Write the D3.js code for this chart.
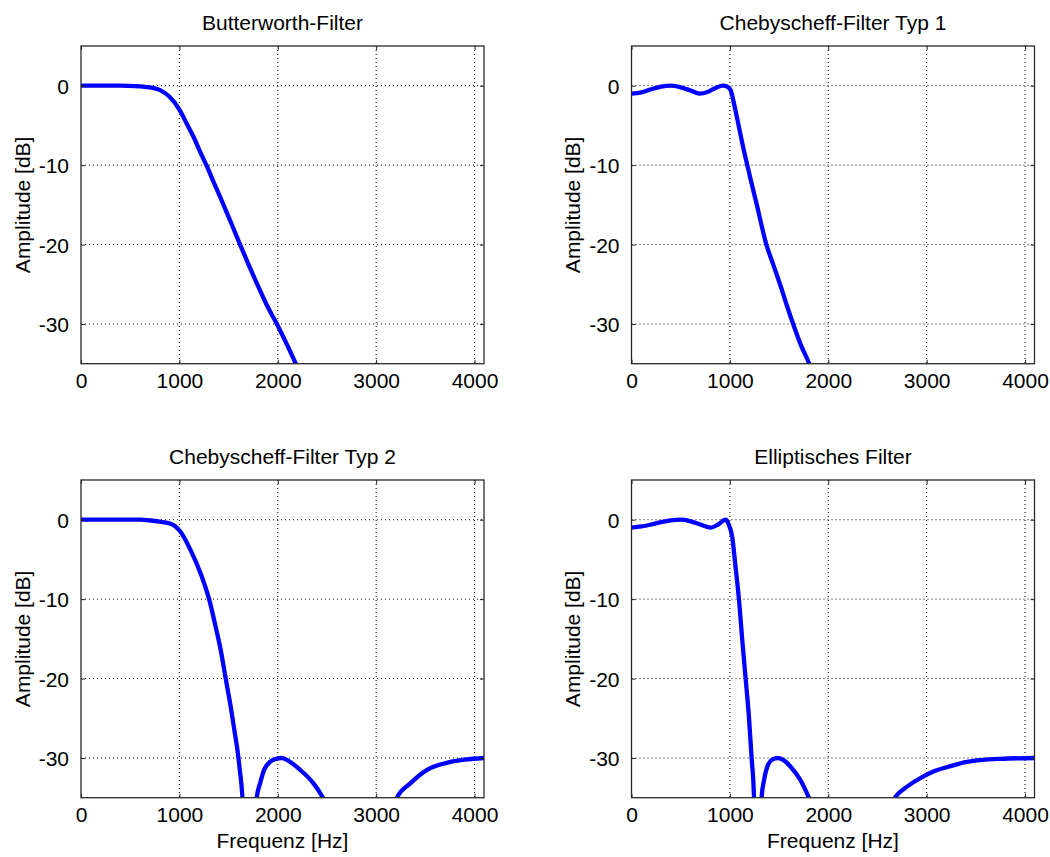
<!DOCTYPE html>
<html>
<head>
<meta charset="utf-8">
<script src="https://cdn.jsdelivr.net/npm/d3@7"></script>
<style>
  html, body { margin: 0; padding: 0; background: #fff; }
  svg { display: block; }
  text { font-family: "Liberation Sans", Arial, Helvetica, sans-serif; fill: #000; }
</style>
</head>
<body>
<svg id="chart" width="1050" height="857"></svg>
<script>
// ---- data (frequency in Hz, amplitude in dB) ----
const titles = ["Butterworth-Filter", "Chebyscheff-Filter Typ 1", "Chebyscheff-Filter Typ 2", "Elliptisches Filter"];
const xTicks = [0, 1000, 2000, 3000, 4000];
const yTicks = [0, -10, -20, -30];
const xDomain = [0, 4096];
const yDomain = [-35, 5];
const xLabel = "Frequenz [Hz]";
const yLabel = "Amplitude [dB]";

const butterFreq = [0, 200, 400, 550, 650, 750, 804, 900, 1000, 1071, 1142, 1210, 1278, 1350, 1414, 1520, 1617, 1720, 1821, 1900, 1991, 2090, 2184, 2260];
const butterDb   = [0, 0, 0, -0.05, -0.15, -0.33, -0.56, -1.4, -3.0, -4.7, -6.4, -8.3, -10.1, -12.2, -14.0, -17.1, -20, -23, -25.8, -27.9, -30, -32.5, -35, -37];

const cheby1Freq = [0, 100, 200, 300, 404, 500, 600, 692, 780, 860, 930, 970, 1007, 1041, 1092, 1143, 1177, 1211, 1270, 1371, 1440, 1507, 1580, 1643, 1720, 1806, 1850];
const cheby1Db   = [-1, -0.85, -0.45, -0.1, 0, -0.2, -0.6, -1.0, -0.75, -0.25, 0, -0.1, -0.55, -2.2, -5.2, -8.2, -10, -11.8, -14.8, -20, -22.5, -24.9, -27.7, -30, -32.6, -35, -36.5];

const cheby2Freq = [0, 300, 600, 708, 800, 911, 1013, 1115, 1217, 1302, 1369, 1420, 1471, 1522, 1560, 1590, 1614, 1641, 1665, 1713, 1760, 1786, 1820, 1861, 1920, 2000, 2042, 2100, 2228, 2363, 2459, 2600, 2720, 2835, 2960, 3120, 3211, 3347, 3517, 3754, 3900, 4096];
const cheby2Db   = [0, 0, 0, -0.1, -0.25, -0.5, -1.55, -3.86, -6.8, -10, -13.5, -16.4, -20, -23.6, -26.6, -29.0, -31.5, -35, -42, -70, -42, -35, -33.2, -31.5, -30.5, -30.05, -30, -30.3, -31.5, -33.2, -35, -39, -46, -70, -46, -38.5, -35, -33.2, -31.5, -30.5, -30.2, -30];

const ellipFreq = [0, 100, 200, 300, 400, 506, 600, 700, 806, 880, 957, 985, 1024, 1058, 1092, 1126, 1160, 1194, 1221, 1245, 1262, 1283, 1300, 1322, 1350, 1380, 1430, 1488, 1550, 1617, 1718, 1803, 1950, 2100, 2230, 2380, 2560, 2678, 2780, 2899, 3068, 3250, 3408, 3600, 3747, 4096];
const ellipDb   = [-1, -0.85, -0.6, -0.3, -0.08, 0, -0.2, -0.6, -1.0, -0.6, 0, -0.5, -2.2, -6, -10, -15.2, -20, -24.9, -30, -35, -45, -70, -45, -35, -32.6, -31.1, -30.2, -30, -30.3, -31.1, -32.8, -35, -40, -48, -70, -48, -38.5, -35, -33.8, -32.8, -31.7, -31, -30.5, -30.2, -30.1, -30];

// ---- layout ----
const svg = d3.select("#chart");
const panels = [
  { left: 81,    top: 46,  freq: butterFreq, db: butterDb, xlab: false },
  { left: 631.5, top: 46,  freq: cheby1Freq, db: cheby1Db, xlab: false },
  { left: 81,    top: 480, freq: cheby2Freq, db: cheby2Db, xlab: true },
  { left: 631.5, top: 480, freq: ellipFreq,  db: ellipDb,  xlab: true }
];
const W = 403, H = 317.7, tickLen = 4;
const fmt = d => String(d);

panels.forEach((p, i) => {
  const g = svg.append("g").attr("transform", `translate(${p.left},${p.top})`);
  const x = d3.scaleLinear().domain(xDomain).range([0, W]);
  const y = d3.scaleLinear().domain(yDomain).range([H, 0]);

  const cid = "clip" + i;
  g.append("clipPath").attr("id", cid).append("rect").attr("width", W).attr("height", H);

  // grid
  g.append("g").selectAll("line").data(xTicks.filter(t => t > 0)).join("line")
    .attr("x1", d => x(d)).attr("x2", d => x(d)).attr("y1", 0).attr("y2", H)
    .attr("stroke", "#000").attr("stroke-width", 1).attr("stroke-dasharray", "1,3");
  g.append("g").selectAll("line").data(yTicks).join("line")
    .attr("y1", d => y(d)).attr("y2", d => y(d)).attr("x1", 0).attr("x2", W)
    .attr("stroke", "#000").attr("stroke-width", 1).attr("stroke-dasharray", "1,3");

  // curve
  const pts = p.freq.map((f, k) => [f, p.db[k]]);
  const line = d3.line().x(d => x(d[0])).y(d => y(d[1])).curve(d3.curveMonotoneX);
  g.append("path").datum(pts).attr("clip-path", `url(#${cid})`)
    .attr("d", line).attr("fill", "none").attr("stroke", "#0000ff")
    .attr("stroke-width", 4.3).attr("stroke-linejoin", "round").attr("stroke-linecap", "butt");

  // axes (inward ticks)
  const xAxB = d3.axisBottom(x).tickValues(xTicks).tickFormat(fmt).tickSizeInner(-tickLen).tickSizeOuter(0);
  const gx = g.append("g").attr("transform", `translate(0,${H})`).call(xAxB);
  const xAxT = d3.axisTop(x).tickValues(xTicks).tickSizeInner(-tickLen).tickSizeOuter(0).tickFormat("");
  g.append("g").call(xAxT);
  const yAxL = d3.axisLeft(y).tickValues(yTicks).tickFormat(fmt).tickSizeInner(-tickLen).tickSizeOuter(0).tickPadding(tickLen + 8);
  const gy = g.append("g").call(yAxL);
  const yAxR = d3.axisRight(y).tickValues(yTicks).tickSizeInner(-tickLen).tickSizeOuter(0).tickFormat("");
  g.append("g").attr("transform", `translate(${W},0)`).call(yAxR);

  g.selectAll(".domain").remove();
  g.selectAll(".tick line").attr("stroke", "#222").attr("stroke-width", 1);
  gx.selectAll(".tick text").attr("font-size", 21).attr("dy", null).attr("y", 24.5)
    .style("font-family", '"Liberation Sans", Arial, sans-serif').attr("fill", "#000");
  gy.selectAll(".tick text").attr("font-size", 21).attr("dy", "0.36em")
    .style("font-family", '"Liberation Sans", Arial, sans-serif').attr("fill", "#000");

  // box
  g.append("rect").attr("width", W).attr("height", H).attr("fill", "none")
    .attr("stroke", "#2a2a2a").attr("stroke-width", 1.3);

  // title
  g.append("text").attr("x", W / 2).attr("y", -16).attr("text-anchor", "middle")
    .attr("font-size", 21).text(titles[i]);

  // y label
  g.append("text").attr("transform", `translate(-51.5,${H / 2}) rotate(-90)`)
    .attr("text-anchor", "middle").attr("font-size", 21).text(yLabel);

  if (p.xlab) {
    g.append("text").attr("x", W / 2).attr("y", H + 50.5).attr("text-anchor", "middle")
      .attr("font-size", 21).text(xLabel);
  }
});
</script>
</body>
</html>
